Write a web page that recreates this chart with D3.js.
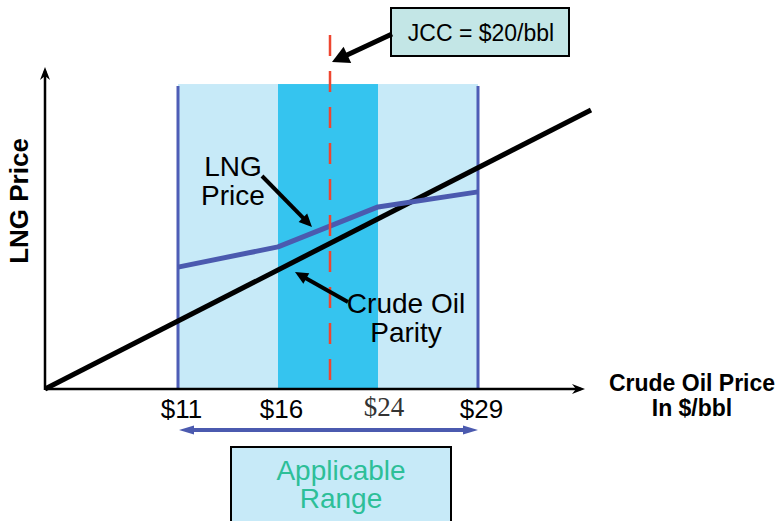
<!DOCTYPE html>
<html>
<head>
<meta charset="utf-8">
<script src="https://cdn.jsdelivr.net/npm/d3@7/dist/d3.min.js"></script>
<style>
  html, body { margin: 0; padding: 0; background: #fff; }
  svg { display: block; font-family: "Liberation Sans", Arial, Helvetica, sans-serif; }
</style>
</head>
<body>
<svg id="chart" width="781" height="521"></svg>
<script>
// Crude oil price breakpoints ($/bbl) used on the horizontal axis
const tickValues = [11, 16, 24, 29];
const tickLabels = ["$11", "$16", "$24", "$29"];
// Applicable range and its core (darker) zone
const applicableRange = [11, 29];
const coreRange = [16, 24];
const bandTop = 95.3;         // height of the shaded range (price units)
// Reference crude (JCC) price
const jccPrice = 20;
const jccTop = 110.6;
// LNG price curve (S-curve) by crude price
const lngCrude = [11, 16, 24, 29];
const lngPrice = [38.1, 44.4, 56.9, 61.6];
// Crude oil parity line endpoints
const parityCrude = [0, 34.65];
const parityPrice = [0, 87.2];
// Axis extents
const xAxisMax = 34.35;
const yAxisMax = 100.6;

const svg = d3.select("#chart");

// Piecewise scale so that the price breakpoints are evenly spaced
const x = d3.scaleLinear()
  .domain([0, 11, 16, 20, 24, 29, 34])
  .range([45, 178, 278, 330, 378, 478, 578]);
const y = d3.scaleLinear().domain([0, 100]).range([389, 69]);

// Filled arrow: shaft from (x1,y1) to tip (x2,y2)
function arrow(g, x1, y1, x2, y2, opt) {
  const { w = 4, len = 14, half = 7, color = "#000" } = opt || {};
  const a = Math.atan2(y2 - y1, x2 - x1);
  const bx = x2 - len * Math.cos(a), by = y2 - len * Math.sin(a);
  g.append("line")
    .attr("x1", x1).attr("y1", y1).attr("x2", bx + 1 * Math.cos(a)).attr("y2", by + 1 * Math.sin(a))
    .attr("stroke", color).attr("stroke-width", w);
  const nx = -Math.sin(a), ny = Math.cos(a);
  g.append("path")
    .attr("d", `M${x2},${y2}L${bx + nx * half},${by + ny * half}L${bx - nx * half},${by - ny * half}Z`)
    .attr("fill", color);
}

// Thin axis arrowhead with a notched back
function axisHead(g, px, py, dir) {
  const L = 13, H = 5, N = 4;
  let d;
  if (dir === "right") d = `M${px},${py}L${px - L},${py - H}L${px - L + N},${py}L${px - L},${py + H}Z`;
  else d = `M${px},${py}L${px - H},${py + L}L${px},${py + L - N}L${px + H},${py + L}Z`;
  g.append("path").attr("d", d).attr("fill", "#000");
}

const g = svg.append("g");

// Applicable range (light) and core zone (dark)
g.append("rect")
  .attr("x", x(applicableRange[0])).attr("y", y(bandTop))
  .attr("width", x(applicableRange[1]) - x(applicableRange[0]))
  .attr("height", y(0) - y(bandTop))
  .attr("fill", "#c7eaf8");
g.append("rect")
  .attr("x", x(coreRange[0])).attr("y", y(bandTop))
  .attr("width", x(coreRange[1]) - x(coreRange[0]))
  .attr("height", y(0) - y(bandTop))
  .attr("fill", "#35c4ef");

// Range boundary lines
g.selectAll("line.bound").data(applicableRange).join("line")
  .attr("class", "bound")
  .attr("x1", d => x(d)).attr("x2", d => x(d))
  .attr("y1", y(bandTop) + 2).attr("y2", y(0))
  .attr("stroke", "#4e5db6").attr("stroke-width", 3);

// Crude oil parity line
g.append("line")
  .attr("x1", x(parityCrude[0])).attr("y1", y(parityPrice[0]))
  .attr("x2", x(parityCrude[1])).attr("y2", y(parityPrice[1]))
  .attr("stroke", "#000").attr("stroke-width", 5);

// LNG price curve
const lngData = lngCrude.map((c, i) => [c, lngPrice[i]]);
g.append("path")
  .datum(lngData)
  .attr("d", d3.line().x(d => x(d[0])).y(d => y(d[1])))
  .attr("fill", "none")
  .attr("stroke", "#4b5aaf").attr("stroke-width", 5)
  .attr("stroke-linejoin", "round");

// JCC reference line
g.append("line")
  .attr("x1", x(jccPrice)).attr("x2", x(jccPrice))
  .attr("y1", y(jccTop)).attr("y2", y(0))
  .attr("stroke", "#ee4630").attr("stroke-width", 2.5)
  .attr("stroke-dasharray", "21,15");

// Axes
g.append("line")
  .attr("x1", x(0)).attr("y1", y(0)).attr("x2", x(xAxisMax) - 4).attr("y2", y(0))
  .attr("stroke", "#000").attr("stroke-width", 2.5);
axisHead(g, x(xAxisMax), y(0), "right");
g.append("line")
  .attr("x1", x(0)).attr("y1", y(0) + 1).attr("x2", x(0)).attr("y2", y(yAxisMax) + 4)
  .attr("stroke", "#000").attr("stroke-width", 2.5);
axisHead(g, x(0), y(yAxisMax), "up");

// Tick labels
g.selectAll("text.tick").data(tickValues).join("text")
  .attr("class", "tick")
  .attr("x", (d, i) => x(d) + (i === 2 ? 6 : 3.5))
  .attr("y", (d, i) => i === 2 ? 416 : 418)
  .attr("text-anchor", "middle")
  .attr("font-size", (d, i) => i === 2 ? 27 : 26)
  .attr("font-family", (d, i) => i === 2 ? "'Liberation Serif', 'Times New Roman', serif" : null)
  .attr("fill", (d, i) => i === 2 ? "#333" : "#000")
  .text((d, i) => tickLabels[i]);

// Axis titles
g.append("text")
  .attr("transform", "translate(28,201) rotate(-90)")
  .attr("text-anchor", "middle")
  .attr("font-size", 26).attr("font-weight", "bold")
  .text("LNG Price");
const xt = g.append("text")
  .attr("text-anchor", "middle")
  .attr("font-size", 23).attr("font-weight", "bold");
xt.append("tspan").attr("x", 692).attr("y", 391).text("Crude Oil Price");
xt.append("tspan").attr("x", 692).attr("y", 416).text("In $/bbl");

// Applicable range arrow and label
const ay = 430;
arrow(g, (x(applicableRange[0]) + x(applicableRange[1])) / 2, ay, x(applicableRange[0]) + 1, ay,
  { w: 4, len: 15, half: 4.5, color: "#4b5aaf" });
arrow(g, (x(applicableRange[0]) + x(applicableRange[1])) / 2, ay, x(applicableRange[1]), ay,
  { w: 4, len: 15, half: 4.5, color: "#4b5aaf" });
g.append("rect")
  .attr("x", 231).attr("y", 447).attr("width", 220).attr("height", 90)
  .attr("fill", "#c7eaf8").attr("stroke", "#000").attr("stroke-width", 2);
const ar = g.append("text")
  .attr("text-anchor", "middle").attr("font-size", 28).attr("fill", "#2dbf98");
ar.append("tspan").attr("x", 341).attr("y", 480).text("Applicable");
ar.append("tspan").attr("x", 341).attr("y", 508).text("Range");

// JCC callout
g.append("rect")
  .attr("x", 391).attr("y", 8).attr("width", 178).attr("height", 48)
  .attr("fill", "#c3e6e6").attr("stroke", "#000").attr("stroke-width", 2);
g.append("text")
  .attr("x", 481).attr("y", 41).attr("text-anchor", "middle")
  .attr("font-size", 23).text("JCC = $20/bbl");
arrow(g, 392, 34, x(jccPrice) + 2, 62, { w: 5, len: 17, half: 9 });

// LNG price label
const lt = g.append("text").attr("text-anchor", "middle").attr("font-size", 28);
lt.append("tspan").attr("x", 233).attr("y", 176).text("LNG");
lt.append("tspan").attr("x", 233).attr("y", 205).text("Price");
arrow(g, 262, 176, 312, 227, { w: 4, len: 13, half: 6 });

// Crude oil parity label
const ct = g.append("text").attr("text-anchor", "middle").attr("font-size", 28);
ct.append("tspan").attr("x", 406).attr("y", 313).text("Crude Oil");
ct.append("tspan").attr("x", 406).attr("y", 342).text("Parity");
arrow(g, 348, 302, 295, 272, { w: 4, len: 13, half: 6 });
</script>
</body>
</html>
